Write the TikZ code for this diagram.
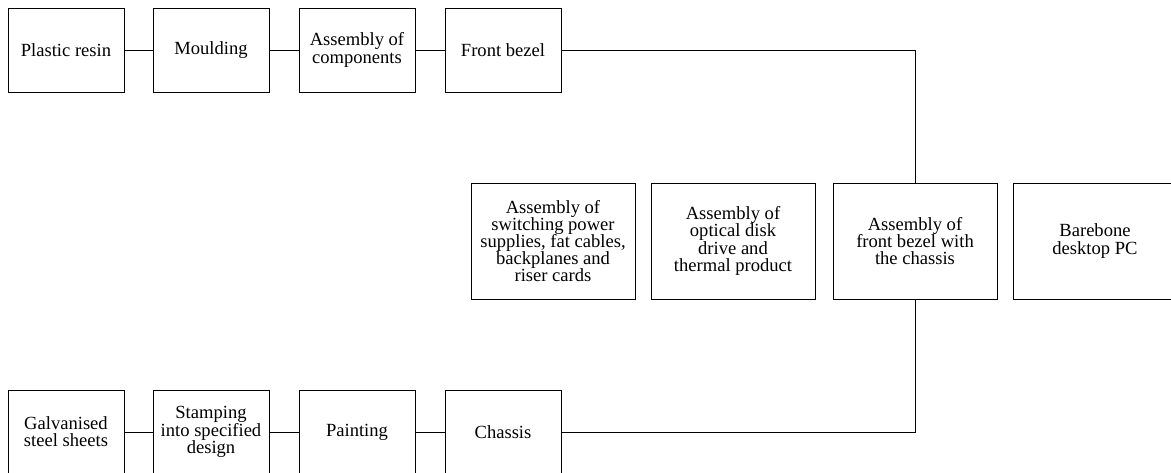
\documentclass[tikz,border=0pt]{standalone}
\usepackage{fontspec}
\setmainfont{Liberation Serif}
\usepackage{tikz}
\tikzset{
	blk/.style={draw, line width=0.6pt, minimum width=2.9cm, minimum height=2.1cm, align=center, inner sep=1pt, font=\fontsize{13.2}{12.2}\selectfont},
	bigblk/.style={blk, minimum width=4.1cm, minimum height=2.9cm},
	wire/.style={line width=0.6pt}
}

\begin{document}
\begin{tikzpicture}[x=0.025cm, y=-0.025cm]
			%%%%% START %%%%%
			\useasboundingbox (0, 0) rectangle (1171, 473);
			
			% plastic part
			\node[blk] (resin) at (66, 50) {Plastic resin};
			\node[blk] (mould) at (211, 50) {Moulding};
			\node[blk] (comp) at (357, 50) {Assembly of\\components};
			\node[blk] (bezel) at (503, 50) {Front bezel};
			
			% assembly line
			\node[bigblk] (psu) at (553, 241) {Assembly of\\switching power\\supplies, fat cables,\\backplanes and\\riser cards};
			\node[bigblk] (odd) at (733, 241) {Assembly of\\optical disk\\drive and\\thermal product};
			\node[bigblk] (join) at (915, 241) {Assembly of\\front bezel with\\the chassis};
			\node[bigblk] (pc) at (1095, 241) {Barebone\\desktop PC};
			
			% steel part
			\node[blk] (steel) at (66, 432) {Galvanised\\steel sheets};
			\node[blk] (stamp) at (211, 432) {Stamping\\into specified\\design};
			\node[blk] (paint) at (357, 432) {Painting};
			\node[blk] (chassis) at (503, 432) {Chassis};
			
			\draw[wire] (resin) -- (mould);
			\draw[wire] (mould) -- (comp);
			\draw[wire] (comp) -- (bezel);
			\draw[wire] (bezel.east) -| (join.north);
			
			\draw[wire] (steel) -- (stamp);
			\draw[wire] (stamp) -- (paint);
			\draw[wire] (paint) -- (chassis);
			\draw[wire] (chassis.east) -| (join.south);
			
			%%%%% END %%%%%
\end{tikzpicture}
\end{document}
